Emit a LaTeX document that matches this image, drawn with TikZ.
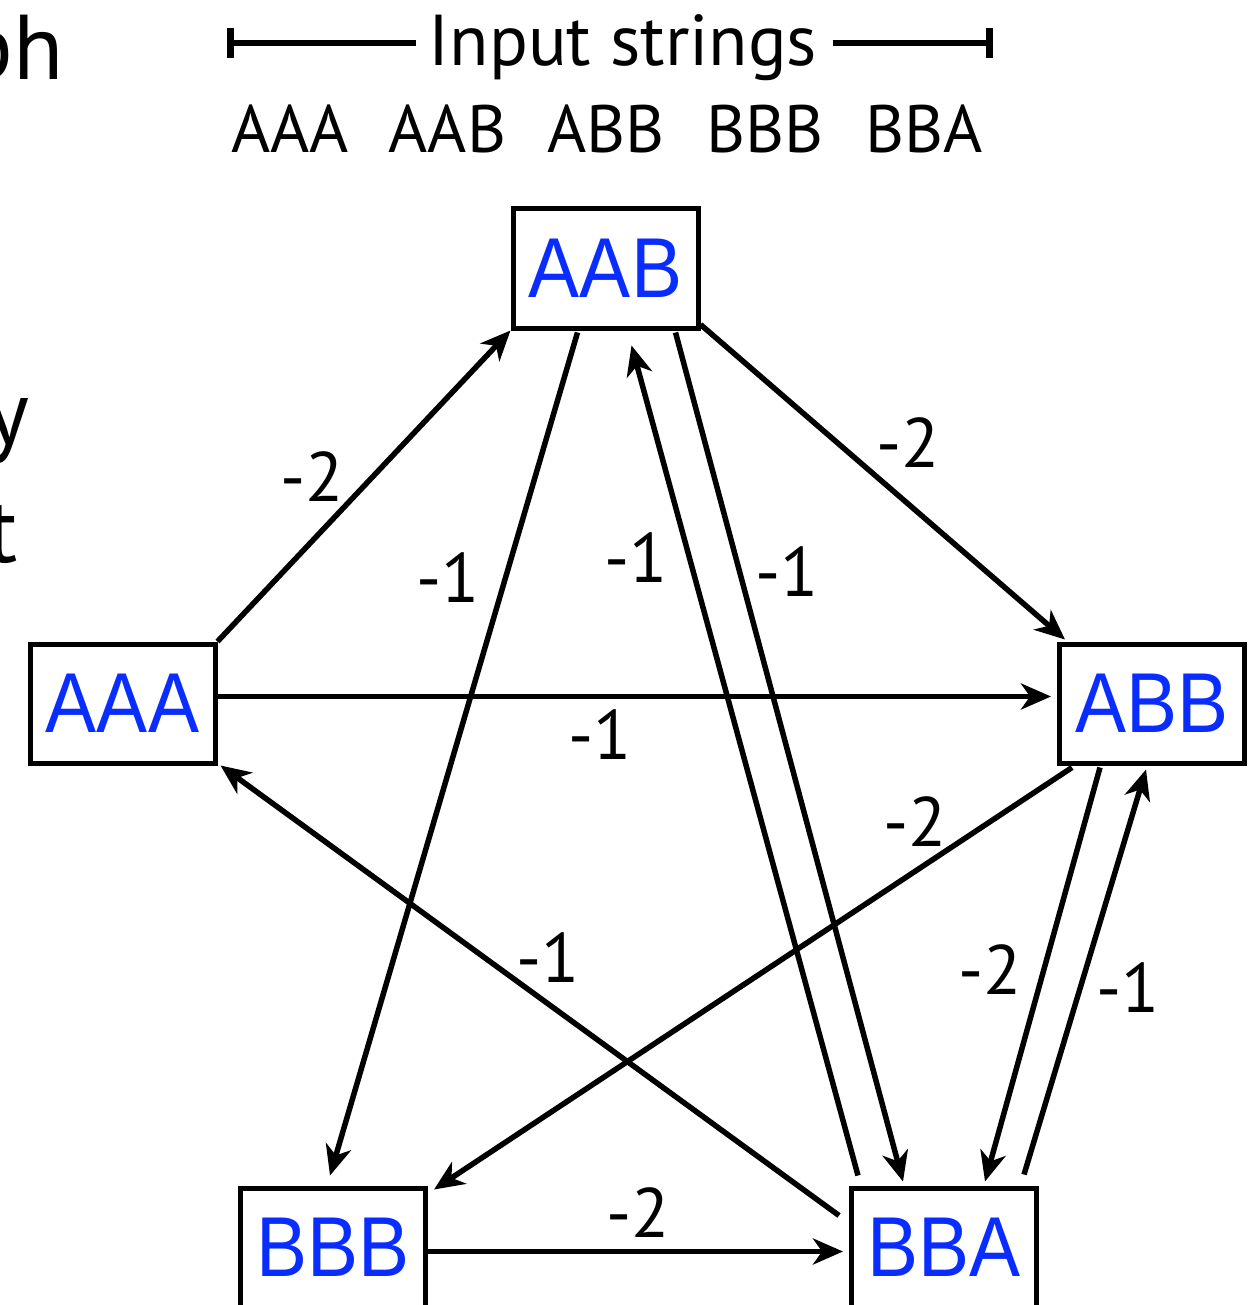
\documentclass[tikz,border=0pt]{standalone}
\usepackage{fontspec}
\setmainfont{PT Sans}
\newfontfamily\boxfont[FakeStretch=0.9]{Liberation Sans}
\usetikzlibrary{arrows.meta,shadows}
\definecolor{stateblue}{RGB}{10,45,255}
\begin{document}
\begin{tikzpicture}[x=1pt,y=-1pt,
  state/.style={draw, line width=5pt, fill=white,
    minimum width=185pt, minimum height=119pt, inner sep=0pt,
    text=stateblue, font=\boxfont\fontsize{85}{85}\selectfont,
    drop shadow={shadow xshift=2pt, shadow yshift=-3pt, opacity=0.18}},
  edge/.style={line width=5.5pt, -{Stealth[length=30pt,width=26pt,inset=9pt]}},
  weight/.style={font=\fontsize{70}{70}\selectfont, inner sep=0pt},
  header/.style={font=\fontsize{67}{67}\selectfont, inner sep=0pt, anchor=base},
  cutword/.style={font=\fontsize{92}{92}\selectfont, inner sep=0pt, anchor=base east},
]
\useasboundingbox (0,0) rectangle (1247,1305);

% fragments of the slide text running off the left edge
\node[cutword] (w1) at (64,80) {ph};
\node[cutword] (w2) at (30,444) {y};
\node[cutword] (w3) at (18,562) {t};

% header: bracketed title and the list of strings
\node[font=\fontsize{72}{72}\selectfont, inner sep=0pt, anchor=base] (title) at (623,66) {Input strings};
\coordinate (brL) at (230.5,43);
\coordinate (brR) at (989.5,43);
\draw[line width=6.5pt] (brL) -- ([xshift=-13pt]title.west |- brL);
\draw[line width=6.5pt] ([xshift=15pt]title.east |- brR) -- (brR);
\draw[line width=6.5pt] ([yshift=15pt]brL) -- ([yshift=-15pt]brL);
\draw[line width=6.5pt] ([yshift=15pt]brR) -- ([yshift=-15pt]brR);

\node[header] (s1) at (290,153) {AAA};
\node[header] (s2) at (447.5,153) {AAB};
\node[header] (s3) at (606,153) {ABB};
\node[header] (s4) at (765,153) {BBB};
\node[header] (s5) at (924,153) {BBA};

% states
\node[state] (AAB) at (605.5,268.5) {AAB};
\node[state] (AAA) at (122.5,703.5) {AAA};
\node[state] (ABB) at (1152,703.5) {ABB};
\node[state] (BBB) at (333,1247.5) {BBB};
\node[state] (BBA) at (944,1247.5) {BBA};

% transitions
\draw[edge] (AAA.north east) -- (AAB.south west);
\draw[edge] ([shift={(-28,2)}]AAB.south) -- ([shift={(-3,-10)}]BBB.north);
\draw[edge] ([shift={(-86,-10)}]BBA.north) -- ([shift={(26,15)}]AAB.south);
\draw[edge] ([shift={(70,2)}]AAB.south) -- ([shift={(-41,-4)}]BBA.north);
\draw[edge] ([shift={(0,-6)}]AAB.south east) -- ([shift={(8,-2)}]ABB.north west);
\draw[edge] ([shift={(0,-7)}]AAA.east) -- ([shift={(-6,-7)}]ABB.west);
\draw[edge] ([shift={(-10,30)}]BBA.north west) -- ([shift={(3,0)}]AAA.south east);
\draw[edge] ([shift={(15,2)}]ABB.south west) -- ([shift={(6,4)}]BBB.north east);
\draw[edge] ([shift={(-52,2)}]ABB.south) -- ([shift={(41,-4)}]BBA.north);
\draw[edge] ([shift={(80,-11)}]BBA.north) -- ([shift={(-6,4)}]ABB.south);
\draw[edge] ([shift={(0,4)}]BBB.east) -- ([shift={(-6,4)}]BBA.west);

% weights
\node[weight] (l1) at (312,477) {-2};
\node[weight] (l2) at (448,578) {-1};
\node[weight] (l3) at (636,558) {-1};
\node[weight] (l4) at (787,572) {-1};
\node[weight] (l5) at (908,443) {-2};
\node[weight] (l6) at (600,735) {-1};
\node[weight] (l7) at (548,958) {-1};
\node[weight] (l8) at (915,822) {-2};
\node[weight] (l9) at (990,970) {-2};
\node[weight] (l10) at (1128,988) {-1};
\node[weight] (l11) at (638,1213) {-2};
\end{tikzpicture}
\end{document}
